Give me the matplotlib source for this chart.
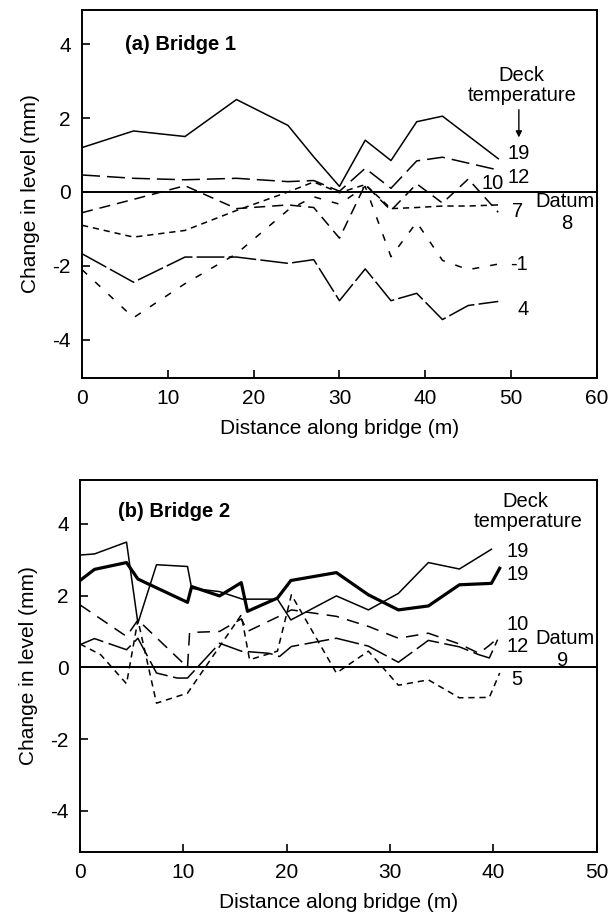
import matplotlib
matplotlib.use("Agg")
import matplotlib.pyplot as plt

plt.rcParams['font.family'] = ['Liberation Sans', 'DejaVu Sans']
plt.rcParams['lines.scale_dashes'] = False
plt.rcParams['axes.unicode_minus'] = False

# ---- Bridge 1 data (distance m, change in level mm) ----
b1_x = [0, 6, 12, 18, 24, 27, 30, 33, 36, 39, 42, 45, 48.5]
b1_x19 = [0, 6, 12, 18, 24, 27, 30, 33, 36, 39, 42, 48.5]
b1_t19 = [1.2, 1.65, 1.5, 2.5, 1.8, 0.95, 0.15, 1.4, 0.85, 1.9, 2.05, 0.9]
b1_x12 = [0, 6, 12, 18, 24, 27, 30, 33, 36, 39, 42, 48]
b1_t12 = [0.46, 0.37, 0.33, 0.37, 0.28, 0.31, 0.02, 0.64, 0.1, 0.84, 0.94, 0.62]
b1_t10 = [-0.56, -0.2, 0.17, -0.45, -0.35, -0.42, -1.25, 0.2, -0.5, 0.22, -0.3, 0.35, -0.55]
b1_t7 = [-0.9, -1.22, -1.04, -0.5, 0.0, 0.27, -0.02, 0.2, -0.45, -0.42, -0.38, -0.38, -0.35]
b1_tm1 = [-2.1, -3.4, -2.48, -1.67, -0.49, -0.13, -0.33, 0.15, -1.75, -0.82, -1.85, -2.1, -1.95]
b1_t4 = [-1.67, -2.44, -1.76, -1.76, -1.93, -1.83, -2.94, -2.08, -2.94, -2.74, -3.45, -3.07, -2.96]

# ---- Bridge 2 data ----
b2_x19a = [0, 1.4, 4.5, 5.6, 7.4, 10.4, 10.8, 13.5, 15.7, 19.1, 20.4, 24.8, 27.9, 30.8, 33.7, 36.7, 39.8]
b2_t19a = [3.13, 3.16, 3.49, 1.23, 2.86, 2.81, 2.2, 2.11, 1.9, 1.9, 1.32, 1.99, 1.6, 2.06, 2.92, 2.74, 3.29]
b2_x19b = [0, 1.4, 4.5, 5.6, 10.4, 10.8, 13.5, 15.6, 16.2, 19.1, 20.4, 24.8, 27.9, 30.8, 33.7, 36.7, 39.8, 40.6]
b2_t19b = [2.42, 2.73, 2.92, 2.46, 1.81, 2.25, 1.99, 2.36, 1.56, 1.93, 2.42, 2.64, 2.02, 1.6, 1.71, 2.3, 2.34, 2.76]
b2_x10 = [0, 4.5, 5.6, 10.4, 10.6, 13.5, 15.6, 16.2, 19.1, 20.45, 24.8, 27.9, 30.8, 33.7, 36.7, 38.6, 39.6, 40.6]
b2_t10 = [1.74, 0.86, 1.32, 0.0, 0.97, 1.0, 1.35, 1.0, 1.4, 1.6, 1.42, 1.14, 0.81, 0.95, 0.65, 0.39, 0.61, 0.86]
b2_x12 = [0, 1.4, 4.5, 5.6, 7.4, 9.4, 10.4, 13.5, 15.6, 18.3, 19.3, 20.45, 24.8, 27.9, 30.8, 33.7, 36.7, 38.6, 39.6, 40.4]
b2_t12 = [0.63, 0.8, 0.49, 0.81, -0.16, -0.3, -0.3, 0.67, 0.45, 0.39, 0.3, 0.58, 0.81, 0.59, 0.14, 0.75, 0.57, 0.35, 0.26, 0.77]
b2_x5 = [0, 2, 4.5, 5.6, 7.4, 10.4, 15.6, 16.4, 19.1, 20.45, 24.8, 27.9, 30.8, 33.7, 36.7, 39.6, 40.6]
b2_t5 = [0.65, 0.35, -0.46, 1.32, -1.0, -0.72, 1.46, 0.21, 0.45, 2.02, -0.16, 0.45, -0.5, -0.35, -0.85, -0.84, -0.16]

fig = plt.figure(figsize=(6.16, 9.13), dpi=100)
ax1 = fig.add_axes([0.1331, 0.586, 0.836, 0.403])
ax2 = fig.add_axes([0.1299, 0.0668, 0.839, 0.4074])

FS = 15
TS = 14.5
lw = 1.1


def style(ax, xlim, ylim, xticks):
    ax.set_xlim(*xlim)
    ax.set_ylim(*ylim)
    ax.set_xticks(xticks)
    ax.set_yticks([-4, -2, 0, 2, 4])
    ax.tick_params(direction='in', length=6, width=1.2, labelsize=FS, pad=8)
    for s in ax.spines.values():
        s.set_linewidth(1.4)
    ax.set_xlabel('Distance along bridge (m)', fontsize=FS, labelpad=8)
    ax.set_ylabel('Change in level (mm)', fontsize=FS, labelpad=9)
    ax.axhline(0, color='black', lw=1.4)


# ---- top panel ----
style(ax1, (0, 60), (-5.03, 4.92), range(0, 61, 10))
ax1.plot(b1_x19, b1_t19, color='black', lw=lw)
ax1.plot(b1_x12, b1_t12, color='black', lw=lw, dashes=(13, 5))
ax1.plot(b1_x, b1_t10, color='black', lw=lw, dashes=(8, 5))
ax1.plot(b1_x, b1_t7, color='black', lw=lw, dashes=(4.5, 3.5))
ax1.plot(b1_x, b1_tm1, color='black', lw=lw, dashes=(5, 8))
ax1.plot(b1_x, b1_t4, color='black', lw=lw, dashes=(20, 3))

ax1.text(5, 4.0, '(a) Bridge 1', fontsize=14.5, fontweight='bold', va='center')
ax1.text(51.2, 3.16, 'Deck', fontsize=TS, ha='center', va='center')
ax1.text(51.3, 2.62, 'temperature', fontsize=TS, ha='center', va='center')
ax1.annotate('', xy=(50.9, 1.4), xytext=(50.9, 2.3),
             arrowprops=dict(arrowstyle='-|>', color='black', lw=1, mutation_scale=9))
for lx, ly, s in [(50.9, 1.05, '19'), (50.9, 0.38, '12'), (47.8, 0.24, '10'),
                  (50.8, -0.54, '7'), (50.9, -1.97, '-1'), (51.4, -3.19, '4'),
                  (56.3, -0.26, 'Datum'), (56.5, -0.84, '8')]:
    ax1.text(lx, ly, s, fontsize=TS, ha='center', va='center')

# ---- bottom panel ----
style(ax2, (0, 50), (-5.15, 5.22), range(0, 51, 10))
ax2.plot(b2_x19a, b2_t19a, color='black', lw=lw)
ax2.plot(b2_x19b, b2_t19b, color='black', lw=2.3)
ax2.plot(b2_x10, b2_t10, color='black', lw=lw, dashes=(9, 6))
ax2.plot(b2_x12, b2_t12, color='black', lw=lw, dashes=(18, 4))
ax2.plot(b2_x5, b2_t5, color='black', lw=lw, dashes=(4.5, 3.5))

ax2.text(3.7, 4.35, '(b) Bridge 2', fontsize=14.5, fontweight='bold', va='center')
ax2.text(43.1, 4.62, 'Deck', fontsize=TS, ha='center', va='center')
ax2.text(43.4, 4.06, 'temperature', fontsize=TS, ha='center', va='center')
for lx, ly, s in [(42.3, 3.23, '19'), (42.3, 2.58, '19'), (42.3, 1.18, '10'),
                  (42.3, 0.57, '12'), (42.3, -0.35, '5'),
                  (46.9, 0.8, 'Datum'), (46.7, 0.2, '9')]:
    ax2.text(lx, ly, s, fontsize=TS, ha='center', va='center')

fig.savefig('out.png', dpi=100)
